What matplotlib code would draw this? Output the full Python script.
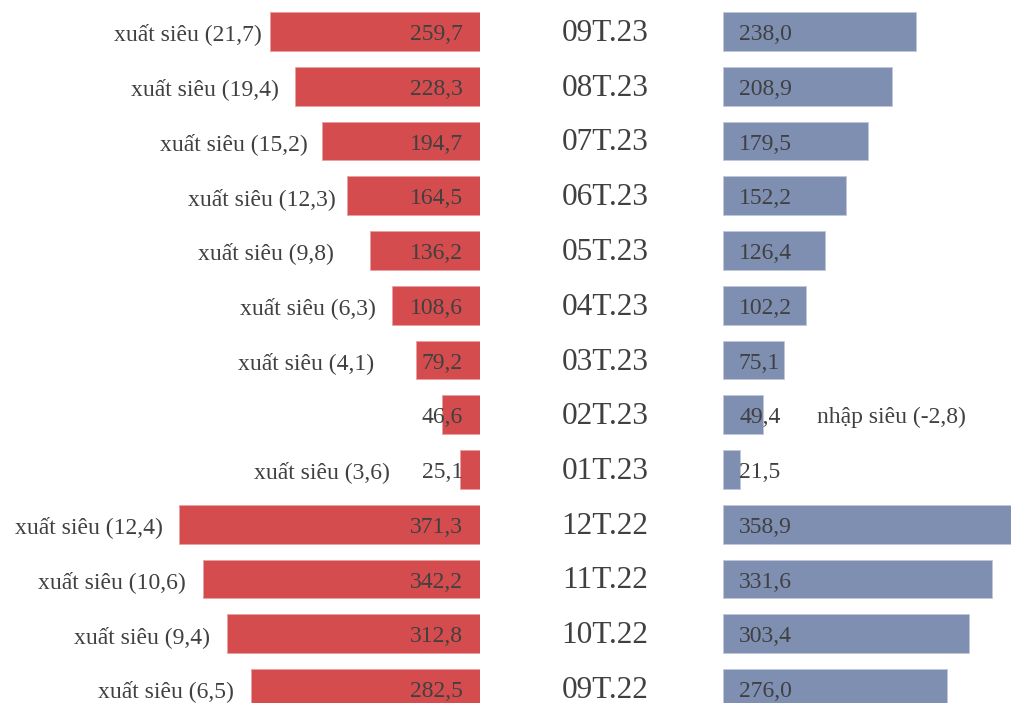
import matplotlib
matplotlib.use("Agg")
import matplotlib.pyplot as plt

# ---- data ----
months = ["09T.23", "08T.23", "07T.23", "06T.23", "05T.23", "04T.23", "03T.23",
          "02T.23", "01T.23", "12T.22", "11T.22", "10T.22", "09T.22"]
exports = [259.7, 228.3, 194.7, 164.5, 136.2, 108.6, 79.2, 46.6, 25.1, 371.3, 342.2, 312.8, 282.5]
imports = [238.0, 208.9, 179.5, 152.2, 126.4, 102.2, 75.1, 49.4, 21.5, 358.9, 331.6, 303.4, 276.0]
balance = [21.7, 19.4, 15.2, 12.3, 9.8, 6.3, 4.1, -2.8, 3.6, 12.4, 10.6, 9.4, 6.5]

# ---- layout (pixels) ----
W, H = 1011, 703
PX = 0.81            # pixels per value unit
LEFT_ZERO = 480      # right edge of export bars
RIGHT_ZERO = 723     # left edge of import bars
ROW0 = 31.5
ROWSTEP = 54.75
TXT_DY = 3.0 / ROWSTEP   # text sits slightly below bar centre
# right end (px) of each "xuất siêu" label on the left side
left_label_end = [262, 279, 308, 336, 334, 376, 374, None, 390, 163, 186, 210, 234]
right_label_start = 817

RED = "#d44c4e"
BLUE = "#7f8fb2"
TXT = "#404040"
FONT = ["Liberation Serif", "DejaVu Serif"]

fig = plt.figure(figsize=(W / 100, H / 100), dpi=100)

ylo = -ROW0 / ROWSTEP
yhi = (H - ROW0) / ROWSTEP

axL = fig.add_axes([0, 0, LEFT_ZERO / W, 1])
axL.set_xlim(LEFT_ZERO / PX, 0)
axL.set_ylim(yhi, ylo)
axR = fig.add_axes([RIGHT_ZERO / W, 0, (W - RIGHT_ZERO) / W, 1])
axR.set_xlim(0, (W - RIGHT_ZERO) / PX)
axR.set_ylim(yhi, ylo)
for a in (axL, axR):
    a.axis("off")

ys = list(range(len(months)))
axL.barh(ys, exports, height=0.71, color=RED, edgecolor="#e8a0a0", linewidth=0.6)
axR.barh(ys, imports, height=0.71, color=BLUE, edgecolor="#c0c8da", linewidth=0.6)

def fmt(v):
    return f"{v:.1f}".replace(".", ",")

fs = 17
for i in ys:
    yt = i + TXT_DY
    axL.text(17 / PX, yt, fmt(exports[i]), ha="right", va="center",
             fontsize=fs, color=TXT, family=FONT)
    axR.text(16 / PX, yt, fmt(imports[i]), ha="left", va="center",
             fontsize=fs, color=TXT, family=FONT)
    ymid = 1 - (ROW0 + ROWSTEP * i + 2.0) / H
    fig.text(605 / W, ymid, months[i], ha="center", va="center",
             fontsize=22.5, color=TXT, family=FONT)
    if balance[i] >= 0:
        xe = left_label_end[i]
        axL.text((LEFT_ZERO - xe) / PX, yt, f"xuất siêu ({fmt(balance[i])})",
                 ha="right", va="center", fontsize=fs, color=TXT, family=FONT)
    else:
        axR.text((right_label_start - RIGHT_ZERO) / PX, yt,
                 f"nhập siêu ({fmt(balance[i])})",
                 ha="left", va="center", fontsize=fs, color=TXT, family=FONT)

fig.savefig("out.png", dpi=100)
